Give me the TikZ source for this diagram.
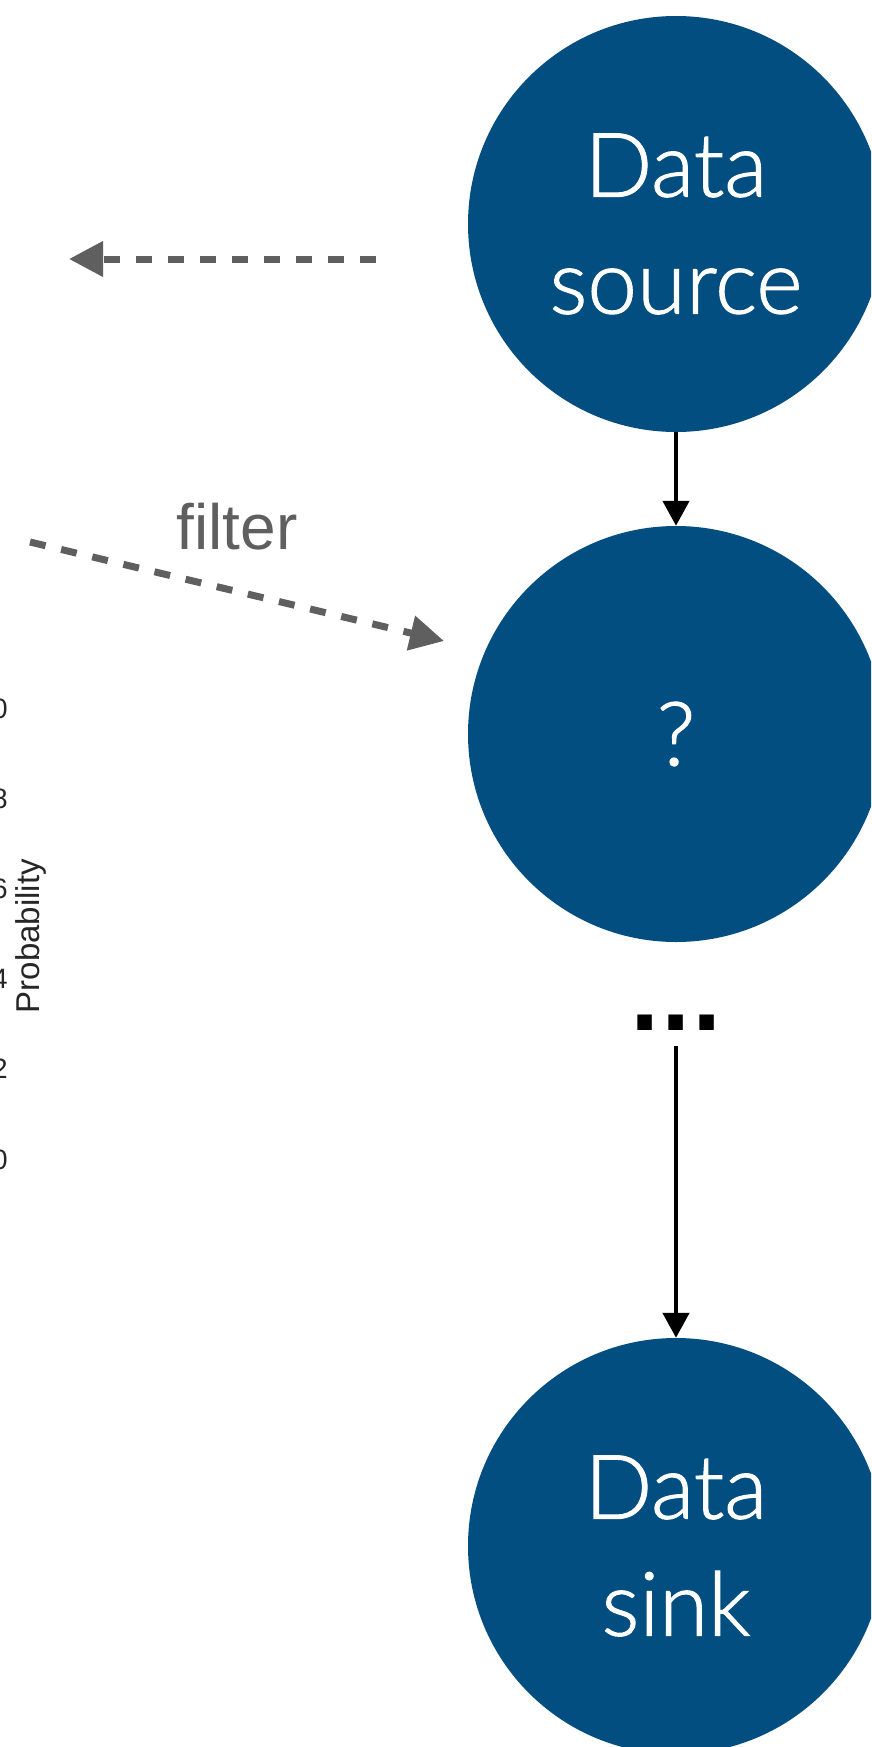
\documentclass[tikz,border=0pt]{standalone}
\usepackage{fontspec}
\setmainfont{Liberation Sans}
\newfontfamily\circfont{Lato Light}[FakeBold=1.2,UprightFeatures={FakeBold=1.2}]
\newfontfamily\dotfont{DejaVu Sans}
\usetikzlibrary{arrows.meta}
\definecolor{nodeblue}{RGB}{3,78,128}
\definecolor{dashgray}{RGB}{95,95,95}
\definecolor{axisgray}{RGB}{38,38,38}
\begin{document}
\begin{tikzpicture}[x=1pt,y=-1pt,
  bignode/.style={circle, fill=nodeblue, minimum size=416pt, inner sep=0pt, text=white,
    font=\circfont\fontsize{89}{117}\selectfont, align=center},
  solidarrow/.style={draw=black, line width=4.5pt, -{Triangle[length=25pt,width=26pt]}},
  dasharrow/.style={draw=dashgray, line width=7pt, dash pattern=on 16pt off 16pt,
    -{Triangle[length=34pt,width=34pt]}},
  ticklbl/.style={anchor=east, inner sep=0pt, text=axisgray, font=\fontsize{28}{30}\selectfont},
]
\useasboundingbox (0,0) rectangle (871,1747);
\clip (0,0) rectangle (871,1747);
\fill[white] (0,0) rectangle (871,1747);

% axis remnants
\node[ticklbl] (t10) at (8,709) {1.0};
\node[ticklbl] (t08) at (8,799) {0.8};
\node[ticklbl] (t06) at (8,889) {0.6};
\node[ticklbl] (t04) at (8,979) {0.4};
\node[ticklbl] (t02) at (8,1069) {0.2};
\node[ticklbl] (t00) at (8,1160) {0.0};
\node[rotate=90, inner sep=0pt, text=axisgray, font=\fontsize{33}{35}\selectfont] (ylab) at (31,936) {Probability};

% main nodes
\node[bignode] (src) at (676,224) {Data\\source};
\node[bignode] (q) at (676,734) {?};
\node[bignode] (sink) at (676,1546) {Data\\sink};
\node[inner sep=0pt, font=\dotfont\bfseries\fontsize{82}{82}\selectfont] (dots) at (676,1023) {...};

\draw[solidarrow] (src.south) -- (q.north);
\draw[solidarrow, shorten <=15pt] (dots.south) -- (sink.north);

% dashed arrows
\coordinate (a1s) at (376,259);
\coordinate (a1e) at (69,259);
\draw[dasharrow] (a1s) -- (a1e);
\coordinate (a2s) at (30,542);
\coordinate (a2e) at (444,641);
\draw[dasharrow] (a2s) -- (a2e);
\node[inner sep=0pt, text=dashgray, font=\fontsize{64}{66}\selectfont] (filt) at (237,527) {filter};
\end{tikzpicture}
\end{document}
